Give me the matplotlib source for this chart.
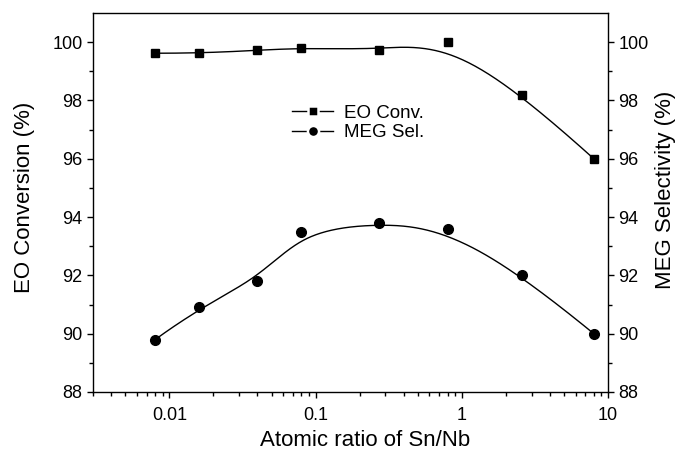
import numpy as np
import matplotlib
matplotlib.use("Agg")
import matplotlib.pyplot as plt
from matplotlib.lines import Line2D
from matplotlib.ticker import FixedLocator, NullFormatter, LogLocator

plt.rcParams['font.family'] = ['Liberation Sans', 'DejaVu Sans']

# Data
sn_nb_ratio = [0.008, 0.016, 0.04, 0.08, 0.27, 0.8, 2.6, 8.0]
eo_conversion = [99.62, 99.62, 99.72, 99.80, 99.74, 100.0, 98.2, 96.0]
meg_selectivity = [89.8, 90.9, 91.8, 93.5, 93.8, 93.6, 92.0, 90.0]
x_ticks = [0.01, 0.1, 1, 10]
x_tick_labels = ["0.01", "0.1", "1", "10"]
y_ticks = [88, 90, 92, 94, 96, 98, 100]


def bspline(xs, ys, n=400, k=3):
    """Clamped cubic B-spline with the data points as control points (log-x space)."""
    P = np.column_stack([np.log10(xs), ys])
    m = len(P)
    knots = np.concatenate([np.zeros(k), np.linspace(0, 1, m - k + 1), np.ones(k)])
    t = np.linspace(0, 1 - 1e-9, n)

    def basis(i, p, u):
        if p == 0:
            return np.where((knots[i] <= u) & (u < knots[i + 1]), 1.0, 0.0)
        a = 0.0
        d1 = knots[i + p] - knots[i]
        d2 = knots[i + p + 1] - knots[i + 1]
        if d1 > 0:
            a = a + (u - knots[i]) / d1 * basis(i, p - 1, u)
        if d2 > 0:
            a = a + (knots[i + p + 1] - u) / d2 * basis(i + 1, p - 1, u)
        return a

    C = np.zeros((n, 2))
    for i in range(m):
        C += np.outer(basis(i, k, t), P[i])
    C = np.vstack([C, P[-1]])
    return 10 ** C[:, 0], C[:, 1]


W, H = 678, 459
fig = plt.figure(figsize=(W / 100, H / 100), dpi=100)
ax = fig.add_axes([93 / W, 1 - 392 / H, (608 - 93) / W, (392 - 13) / H])

ax.set_xscale('log')
ax.set_xlim(0.003, 10)
ax.set_ylim(88, 101)

cx, cy = bspline(sn_nb_ratio, eo_conversion)
ax.plot(cx, cy, color='black', lw=1.0)
cx, cy = bspline(sn_nb_ratio, meg_selectivity)
ax.plot(cx, cy, color='black', lw=1.0)

ax.plot(sn_nb_ratio, eo_conversion, 's', color='black', ms=6.3, ls='none')
ax.plot(sn_nb_ratio, meg_selectivity, 'o', color='black', ms=7, ls='none')

ax.set_xticks(x_ticks)
ax.set_xticklabels(x_tick_labels)
ax.xaxis.set_minor_locator(LogLocator(base=10, subs=np.arange(2, 10)))
ax.xaxis.set_minor_formatter(NullFormatter())
ax.set_yticks(y_ticks)
ax.yaxis.set_minor_locator(FixedLocator([89, 91, 93, 95, 97, 99]))

ax.tick_params(which='major', direction='out', length=4.5, width=1, labelsize=13, pad=3)
ax.tick_params(which='minor', direction='out', length=2.8, width=1)
ax.tick_params(axis='y', which='both', left=True, right=True, labelleft=True, labelright=True)
ax.tick_params(axis='x', which='both', top=False)
ax.tick_params(axis='x', which='major', pad=6.5)
for s in ax.spines.values():
    s.set_linewidth(1.0)

fig.text(365 / W, 1 - 441 / H, 'Atomic ratio of Sn/Nb', fontsize=16, ha='center', va='center')
fig.text(25 / W, 1 - 197 / H, 'EO Conversion (%)', fontsize=16,
         rotation=90, ha='center', va='center')
fig.text(666 / W, 1 - 190 / H, 'MEG Selectivity (%)', fontsize=16,
         rotation=90, ha='center', va='center')

handles = [Line2D([], [], color='black', lw=1.0, marker='s', ms=7.5, mec='white', mew=1.8, mfc='black'),
           Line2D([], [], color='black', lw=1.0, marker='o', ms=8, mec='white', mew=1.8, mfc='black')]
ax.legend(handles, ['EO Conv.', 'MEG Sel.'], loc='upper left',
          bbox_to_anchor=(0.368, 0.783), frameon=False, fontsize=13.5,
          handlelength=2.2, handletextpad=0.6, labelspacing=0.12, borderpad=0)

fig.savefig('out.png', dpi=100)
